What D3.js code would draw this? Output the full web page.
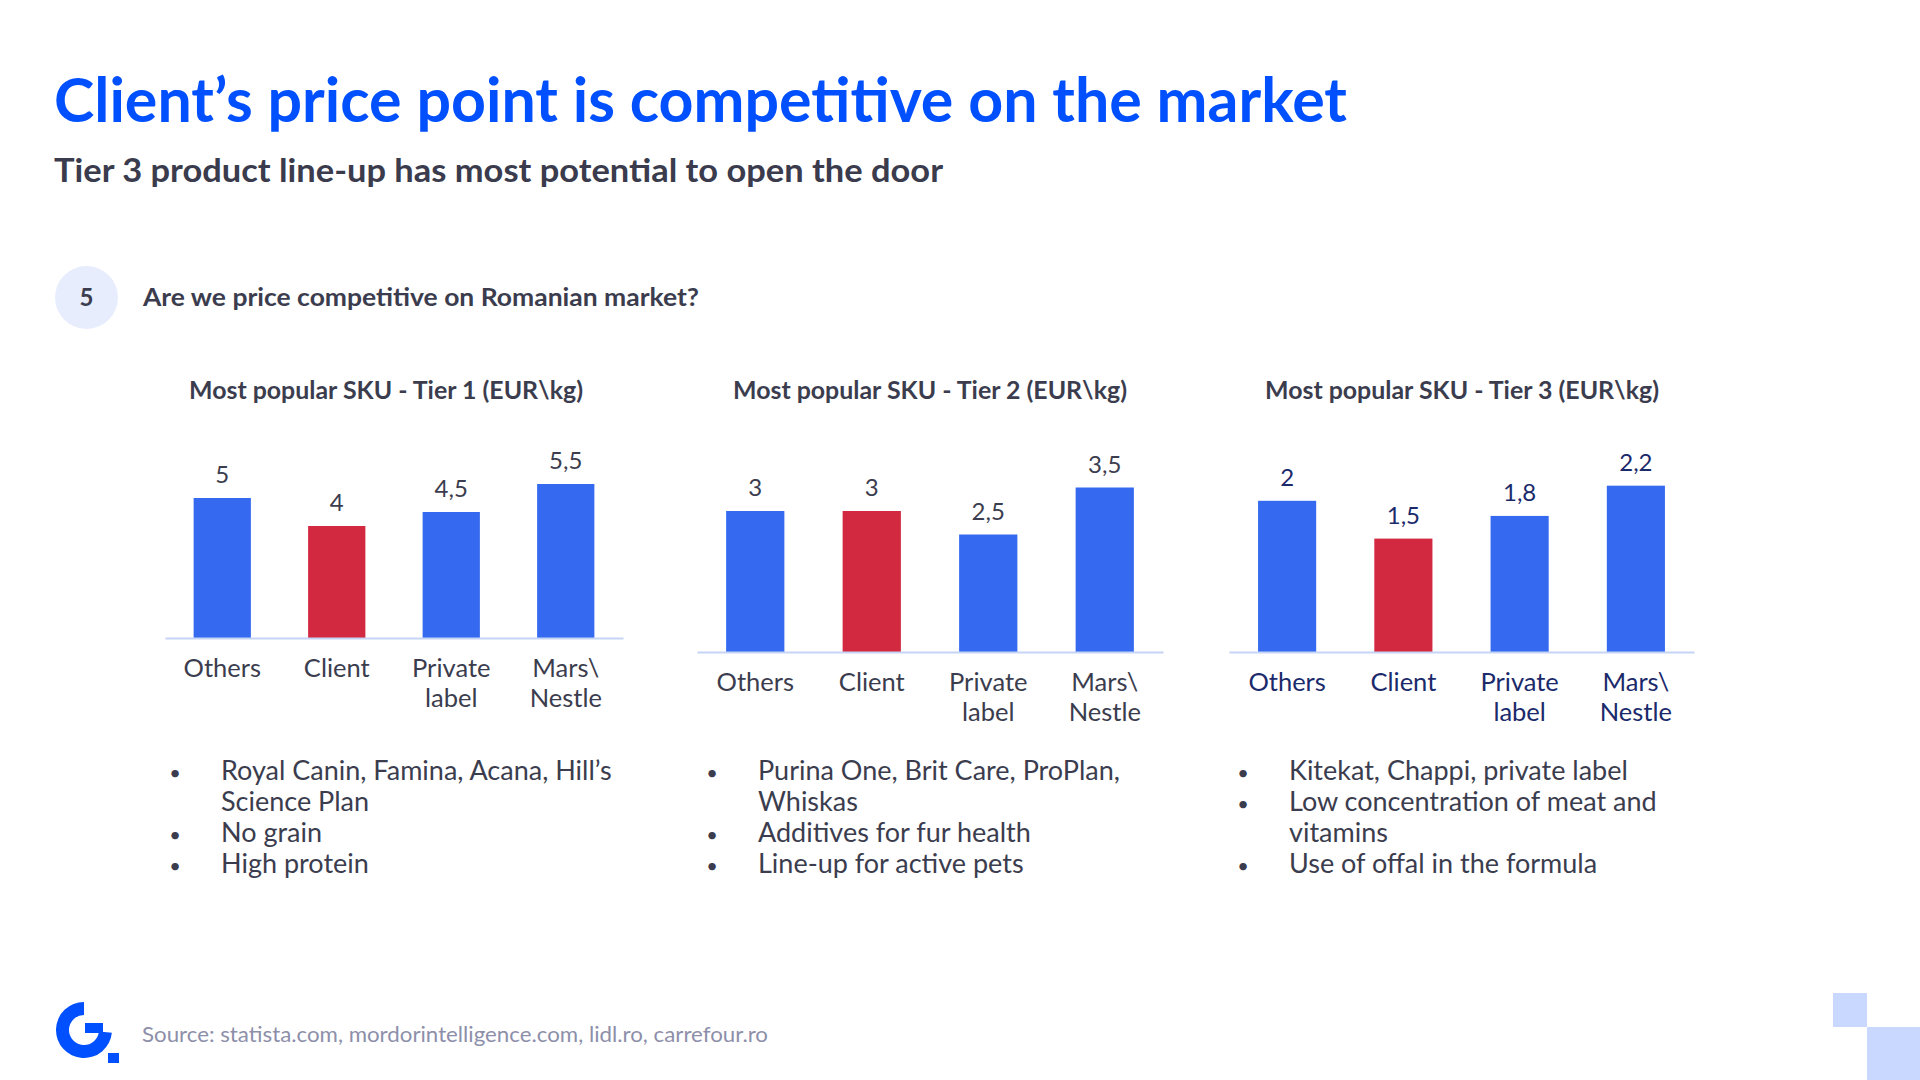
<!DOCTYPE html>
<html>
<head>
<meta charset="utf-8">
<script src="https://cdn.jsdelivr.net/npm/d3@7"></script>
<style>
  html, body { margin: 0; padding: 0; background: #ffffff; }
  svg { display: block; font-family: Lato, "Open Sans", sans-serif; }
</style>
</head>
<body>
<svg id="chart" width="1920" height="1080"></svg>
<script>
// ---------------- DATA ----------------
const categories = ["Others", "Client", "Private label", "Mars\\ Nestle"];
const highlightCategory = "Client";
const tier1Values = [5, 4, 4.5, 5.5];
const tier2Values = [3, 3, 2.5, 3.5];
const tier3Values = [2, 1.5, 1.8, 2.2];
const chartTitles = [
  "Most popular SKU - Tier 1 (EUR\\kg)",
  "Most popular SKU - Tier 2 (EUR\\kg)",
  "Most popular SKU - Tier 3 (EUR\\kg)"
];
const tier1Notes = [
  { bullet: true,  text: "Royal Canin, Famina, Acana, Hill’s" },
  { bullet: false, text: "Science Plan" },
  { bullet: true,  text: "No grain" },
  { bullet: true,  text: "High protein" }
];
const tier2Notes = [
  { bullet: true,  text: "Purina One, Brit Care, ProPlan," },
  { bullet: false, text: "Whiskas" },
  { bullet: true,  text: "Additives for fur health" },
  { bullet: true,  text: "Line-up for active pets" }
];
const tier3Notes = [
  { bullet: true,  text: "Kitekat, Chappi, private label" },
  { bullet: true,  text: "Low concentration of meat and" },
  { bullet: false, text: "vitamins" },
  { bullet: true,  text: "Use of offal in the formula" }
];
const titleText = "Client’s price point is competitive on the market";
const subtitleText = "Tier 3 product line-up has most potential to open the door";
const questionNumber = "5";
const questionText = "Are we price competitive on Romanian market?";
const sourceText = "Source: statista.com, mordorintelligence.com, lidl.ro, carrefour.ro";

// ---------------- STYLE / LAYOUT ----------------
const BLUE = "#3569F0", RED = "#D22840", TITLE_BLUE = "#0050FF";
const TEXT = "#3B3D4E", NAVY = "#1B2A6B";

const layouts = [
  { values: tier1Values, title: chartTitles[0], notes: tier1Notes, x0: 165, x1: 623, base: 638, yMax: 6,   h: 168, titleX: 386, textX: 221, color: TEXT },
  { values: tier2Values, title: chartTitles[1], notes: tier2Notes, x0: 697, x1: 1163, base: 652, yMax: 4,  h: 188, titleX: 930, textX: 758, color: TEXT },
  { values: tier3Values, title: chartTitles[2], notes: tier3Notes, x0: 1229, x1: 1694, base: 652, yMax: 2.5, h: 189, titleX: 1462, textX: 1289, color: NAVY }
];

const svg = d3.select("#chart");
const fmt = v => String(v).replace(".", ",");

function fitText(sel, width) {
  sel.attr("textLength", width).attr("lengthAdjust", "spacingAndGlyphs");
  return sel;
}

// Header
fitText(svg.append("text").attr("x", 54).attr("y", 122)
  .attr("font-size", 61).attr("font-weight", 700).attr("fill", TITLE_BLUE)
  .text(titleText), 1293);

fitText(svg.append("text").attr("x", 54).attr("y", 182)
  .attr("font-size", 32).attr("font-weight", 700).attr("fill", "#3A3B4C")
  .text(subtitleText), 889);

svg.append("circle").attr("cx", 86.5).attr("cy", 297.5).attr("r", 31.5).attr("fill", "#E8EDFD");
svg.append("text").attr("x", 86.5).attr("y", 306).attr("text-anchor", "middle")
  .attr("font-size", 24).attr("font-weight", 700).attr("fill", TEXT).text(questionNumber);
fitText(svg.append("text").attr("x", 143).attr("y", 306)
  .attr("font-size", 24).attr("font-weight", 700).attr("fill", TEXT)
  .text(questionText), 556);

// Charts
layouts.forEach(c => {
  const g = svg.append("g");
  const x = d3.scaleBand().domain(categories).range([c.x0, c.x1]).paddingInner(0.5).paddingOuter(0.25);
  const y = d3.scaleLinear().domain([0, c.yMax]).range([c.base, c.base - c.h]);
  const data = categories.map((k, i) => ({ k, v: c.values[i] }));

  fitText(g.append("text").attr("x", c.titleX).attr("y", 399).attr("text-anchor", "middle")
    .attr("font-size", 24).attr("font-weight", 700).attr("fill", TEXT).text(c.title), 394);

  g.selectAll("rect.bar").data(data).join("rect").attr("class", "bar")
    .attr("x", d => x(d.k)).attr("width", x.bandwidth())
    .attr("y", d => y(d.v)).attr("height", d => y(0) - y(d.v))
    .attr("fill", d => d.k === highlightCategory ? RED : BLUE);

  g.selectAll("text.val").data(data).join("text").attr("class", "val")
    .attr("x", d => x(d.k) + x.bandwidth() / 2).attr("y", d => y(d.v) - 15)
    .attr("text-anchor", "middle").attr("font-size", 24).attr("fill", c.color)
    .text(d => fmt(d.v));

  const axis = g.append("g").attr("transform", `translate(0,${c.base})`)
    .call(d3.axisBottom(x).tickSize(0).tickSizeOuter(0));
  axis.select(".domain").attr("stroke", "#C6D4F6").attr("stroke-width", 2);
  axis.selectAll(".tick text").each(function (d) {
    const t = d3.select(this);
    t.text(null).attr("y", 39).attr("dy", null)
      .attr("font-size", 25.5).attr("fill", c.color).attr("font-family", "Lato, sans-serif");
    d.split(" ").forEach((line, i) => {
      t.append("tspan").attr("x", 0).attr("dy", i ? 30 : 0).text(line);
    });
  });

  // notes
  const notes = g.append("g");
  c.notes.forEach((n, i) => {
    const yy = 780 + i * 31;
    if (n.bullet) {
      notes.append("text").attr("x", c.textX - 46).attr("y", yy).attr("text-anchor", "middle")
        .attr("font-size", 20).attr("fill", TEXT).text("•");
    }
    notes.append("text").attr("x", c.textX).attr("y", yy)
      .attr("font-size", 27).attr("fill", TEXT).text(n.text);
  });
});

// Footer logo
const logo = svg.append("g").attr("transform", "translate(84,1030)");
logo.append("path").attr("fill", TITLE_BLUE)
  .attr("d", d3.arc()({ innerRadius: 15, outerRadius: 28, startAngle: Math.PI / 2 + 0.1, endAngle: 2 * Math.PI }));
logo.append("rect").attr("x", 1).attr("y", -7).attr("width", 18).attr("height", 10).attr("fill", TITLE_BLUE);
logo.append("rect").attr("x", 24).attr("y", 23).attr("width", 11).attr("height", 10).attr("fill", TITLE_BLUE);

fitText(svg.append("text").attr("x", 142).attr("y", 1042)
  .attr("font-size", 21).attr("fill", "#8D8FAA").text(sourceText), 626);

// decorative squares
svg.append("rect").attr("x", 1833).attr("y", 993).attr("width", 34).attr("height", 34).attr("fill", "#C9D8FE");
svg.append("rect").attr("x", 1867).attr("y", 1027).attr("width", 53).attr("height", 53).attr("fill", "#C9D8FE");
</script>
</body>
</html>
